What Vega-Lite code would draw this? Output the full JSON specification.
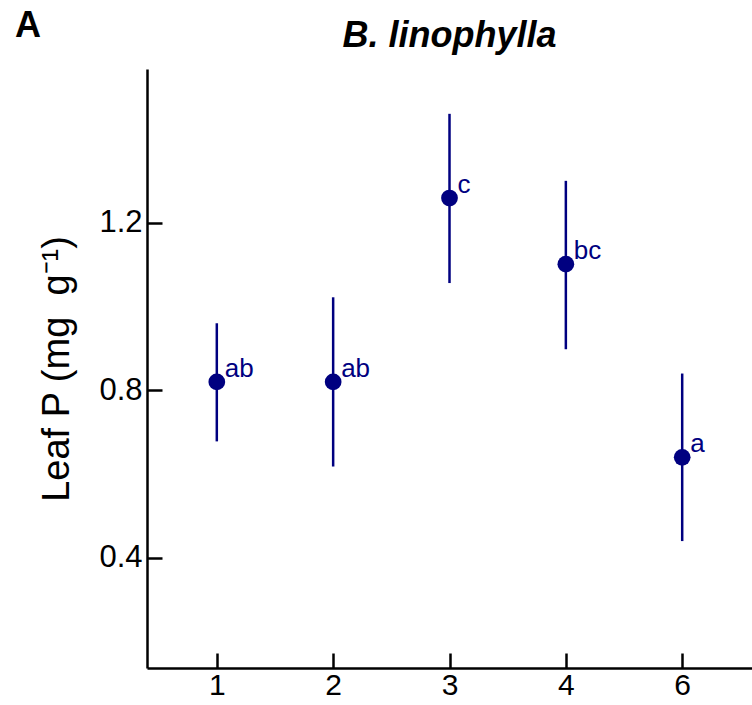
{
  "$schema": "https://vega.github.io/schema/vega-lite/v6.json",
  "padding": {"left": 14, "top": 8, "right": 0, "bottom": 5},
  "background": "white",
  "title": {"text": "A", "anchor": "start", "frame": "bounds", "fontSize": 36, "fontWeight": "bold", "font": "Liberation Sans", "color": "black", "offset": -27, "dx": -24},
  "config": {"view": {"stroke": null}, "font": "Liberation Sans"},
  "vconcat": [
    {
      "width": 605,
      "height": 599,
      "title": {"text": "B. linophylla", "fontSize": 36, "fontStyle": "italic", "fontWeight": "bold", "anchor": "middle", "offset": 14, "color": "black", "font": "Liberation Sans"},
      "data": {
        "values": [
          {"group": "1", "mean": 0.82, "lower": 0.678, "upper": 0.96, "letter": "ab"},
          {"group": "2", "mean": 0.82, "lower": 0.618, "upper": 1.022, "letter": "ab"},
          {"group": "3", "mean": 1.259, "lower": 1.056, "upper": 1.46, "letter": "c"},
          {"group": "4", "mean": 1.101, "lower": 0.898, "upper": 1.3, "letter": "bc"},
          {"group": "6", "mean": 0.64, "lower": 0.44, "upper": 0.84, "letter": "a"}
        ]
      },
      "encoding": {
        "x": {
          "field": "group",
          "type": "ordinal",
          "scale": {"type": "point", "padding": 0.6},
          "axis": {"title": null, "labelAngle": 0, "labelFontSize": 30, "labelColor": "black", "labelPadding": 17, "tickSize": -15, "tickWidth": 2.5, "tickColor": "black", "domainColor": "black", "domainWidth": 2.5, "grid": false}
        }
      },
      "layer": [
        {
          "mark": {"type": "rule", "color": "#000080", "strokeWidth": 2.5},
          "encoding": {
            "y": {
              "field": "lower",
              "type": "quantitative",
              "scale": {"domain": [0.137, 1.567], "nice": false, "zero": false},
              "axis": {"values": [0.4, 0.8, 1.2], "format": ".1f", "labelFontSize": 31, "labelColor": "black", "labelPadding": 20, "tickSize": -15, "tickWidth": 2.5, "tickColor": "black", "domainColor": "black", "domainWidth": 2.5, "grid": false, "title": "Leaf P (mg\u00a0\u00a0g⁻¹)", "titleFontSize": 38, "titleFontWeight": "normal", "titleColor": "black", "titlePadding": 22}
            },
            "y2": {"field": "upper"}
          }
        },
        {
          "mark": {"type": "circle", "color": "#000080", "opacity": 1, "size": 280},
          "encoding": {"y": {"field": "mean", "type": "quantitative"}}
        },
        {
          "mark": {"type": "text", "color": "#000080", "fontSize": 26, "align": "left", "baseline": "alphabetic", "dx": 8, "dy": -5},
          "encoding": {"y": {"field": "mean", "type": "quantitative"}, "text": {"field": "letter"}}
        }
      ]
    }
  ]
}
